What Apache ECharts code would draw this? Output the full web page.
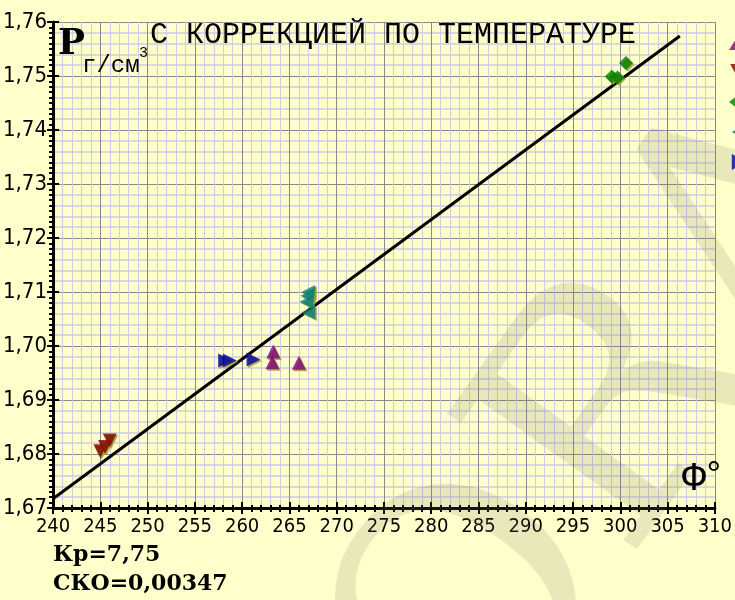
<!DOCTYPE html>
<html><head><meta charset="utf-8">
<script src="https://cdn.jsdelivr.net/npm/echarts@6/dist/echarts.min.js"></script>
<style>html,body{margin:0;padding:0;background:#FFFFCC;}#c{width:735px;height:600px;}</style>
</head><body><div id="c"></div>
<script>
const seriesNames = ['1', '2', '3', '4', '5'];
const purpleUp = [[263.3, 1.6990], [263.2, 1.6970], [266.0, 1.6969]];
const redDown = [[245.0, 1.6805], [245.5, 1.6813], [246.0, 1.6825]];
const greenDiamond = [[299.1, 1.7499], [299.7, 1.7497], [300.6, 1.7524]];
const tealLeft = [[267.0, 1.7100], [266.9, 1.7093], [266.8, 1.7082], [267.0, 1.7062]];
const blueRight = [[258.2, 1.6973], [258.7, 1.6973], [261.2, 1.6975]];
const fitLine = [[240, 1.6717], [306.3, 1.7574]];
const xMin = 240, xMax = 310, xStep = 5;
const yMin = 1.67, yMax = 1.76, yStep = 0.01;
const titleText = 'С КОРРЕКЦИЕЙ ПО ТЕМПЕРАТУРЕ';
const noteLines = ['Кр=7,75', 'СКО=0,00347'];

const chart = echarts.init(document.getElementById('c'));
const narrow = '"Liberation Sans Narrow","DejaVu Sans Condensed","Arial Narrow",sans-serif';
const shadow = {shadowColor: '#9c9c28', shadowOffsetX: 1.5, shadowOffsetY: 1.5, shadowBlur: 0};
const symUp = 'triangle', symDown = 'path://M0,0L10,0L5,9Z', symDia = 'diamond',
  symLeft = 'path://M9,0L9,10L0,5Z', symRight = 'path://M0,0L9,5L0,10Z';
const colors = ['#800080', '#800000', '#008000', '#008080', '#0000a8'];
function sc(name, data, symbol, color) {
  return {name, type: 'scatter', data, symbol, symbolSize: 14, z: 5,
    itemStyle: Object.assign({color}, shadow)};
}
const baseX = {type: 'value', min: xMin, max: xMax, interval: xStep, gridIndex: 0, position: 'bottom'};
const baseY = {type: 'value', min: yMin, max: yMax, interval: yStep, gridIndex: 0, position: 'left'};
chart.setOption({
  backgroundColor: '#FFFFCC',
  animation: false,
  grid: {left: 53, top: 22, width: 667, height: 486, show: false},
  legend: {
    orient: 'vertical', left: 724, top: 29, itemWidth: 20, itemHeight: 16, itemGap: 14,
    data: [
      {name: seriesNames[0], icon: symUp},
      {name: seriesNames[1], icon: symDown},
      {name: seriesNames[2], icon: symDia},
      {name: seriesNames[3], icon: symLeft},
      {name: seriesNames[4], icon: symRight}
    ],
    formatter: () => '', textStyle: {fontSize: 1}
  },
  xAxis: [
    Object.assign({}, baseX, {
      axisLine: {show: true, lineStyle: {color: '#000', width: 3}},
      axisTick: {show: true, inside: false, length: 6, lineStyle: {color: '#000', width: 2}},
      minorTick: {show: true, splitNumber: 5, length: 4, lineStyle: {color: '#000', width: 2}},
      axisLabel: {color: '#000', fontFamily: narrow, fontSize: 20, margin: 9},
      splitLine: {show: true, lineStyle: {color: '#8a8a8a', width: 1}},
      minorSplitLine: {show: true, lineStyle: {color: '#cdcddf', width: 1}}
    }),
    Object.assign({}, baseX, {
      axisLine: {show: false},
      axisTick: {show: true, inside: true, length: 6, lineStyle: {color: '#000', width: 2}},
      minorTick: {show: true, splitNumber: 5, length: 3, lineStyle: {color: '#000', width: 2}},
      axisLabel: {show: false}, splitLine: {show: false}
    })
  ],
  yAxis: [
    Object.assign({}, baseY, {
      axisLine: {show: true, lineStyle: {color: '#000', width: 3}},
      axisTick: {show: true, inside: false, length: 6, lineStyle: {color: '#000', width: 2}},
      minorTick: {show: true, splitNumber: 10, length: 4, lineStyle: {color: '#000', width: 2}},
      axisLabel: {color: '#000', fontFamily: narrow, fontSize: 22, margin: 6,
        formatter: v => v.toFixed(2).replace('.', ',')},
      splitLine: {show: true, lineStyle: {color: '#8a8a8a', width: 1}}
    }),
    Object.assign({}, baseY, {
      axisLine: {show: false},
      axisTick: {show: true, inside: true, length: 6, lineStyle: {color: '#000', width: 2}},
      minorTick: {show: false, splitNumber: 5},
      axisLabel: {show: false}, splitLine: {show: false},
      minorSplitLine: {show: true, lineStyle: {color: '#cdcddf', width: 1.5}}
    })
  ],
  series: [
    {name: 'fit', type: 'line', data: fitLine, symbol: 'none', z: 4,
      lineStyle: {color: '#000', width: 3}},
    sc(seriesNames[0], purpleUp, symUp, colors[0]),
    sc(seriesNames[1], redDown, symDown, colors[1]),
    sc(seriesNames[2], greenDiamond, symDia, colors[2]),
    sc(seriesNames[3], tealLeft, symLeft, colors[3]),
    sc(seriesNames[4], blueRight, symRight, colors[4])
  ],
  graphic: [
    {type: 'text', z: 1, silent: true, x: 620, y: 430, rotation: 0.95,
      style: {text: 'ORA', font: '320px "DejaVu Serif"', fill: 'rgba(120,120,100,0.17)',
        align: 'center', verticalAlign: 'middle'}},
    {type: 'text', z: 10, x: 150, y: 35,
      style: {text: titleText, font: '30px "Liberation Mono"', fill: '#000', verticalAlign: 'middle'}},
    {type: 'text', z: 10, x: 58, y: 45,
      style: {text: 'Р', font: 'bold 36px "DejaVu Serif"', fill: '#000', verticalAlign: 'middle'}},
    {type: 'text', z: 10, x: 82, y: 66,
      style: {text: 'г/см', font: '24px "Liberation Mono"', fill: '#000', verticalAlign: 'middle'}},
    {type: 'text', z: 10, x: 139, y: 53,
      style: {text: '3', font: '15px "Liberation Mono"', fill: '#000', verticalAlign: 'middle'}},
    {type: 'text', z: 10, x: 682, y: 479,
      style: {text: 'Ф', font: '40px "Liberation Mono"', fill: '#000', verticalAlign: 'middle'}},
    {type: 'text', z: 10, x: 703, y: 476,
      style: {text: '°', font: '36px "Liberation Mono"', fill: '#000', verticalAlign: 'middle'}},
    {type: 'text', z: 10, x: 53, y: 555,
      style: {text: noteLines[0], font: 'bold 22px "DejaVu Serif"', fill: '#000', verticalAlign: 'middle'}},
    {type: 'text', z: 10, x: 53, y: 584,
      style: {text: noteLines[1], font: 'bold 22px "DejaVu Serif"', fill: '#000', verticalAlign: 'middle'}}
  ]
});
</script></body></html>
